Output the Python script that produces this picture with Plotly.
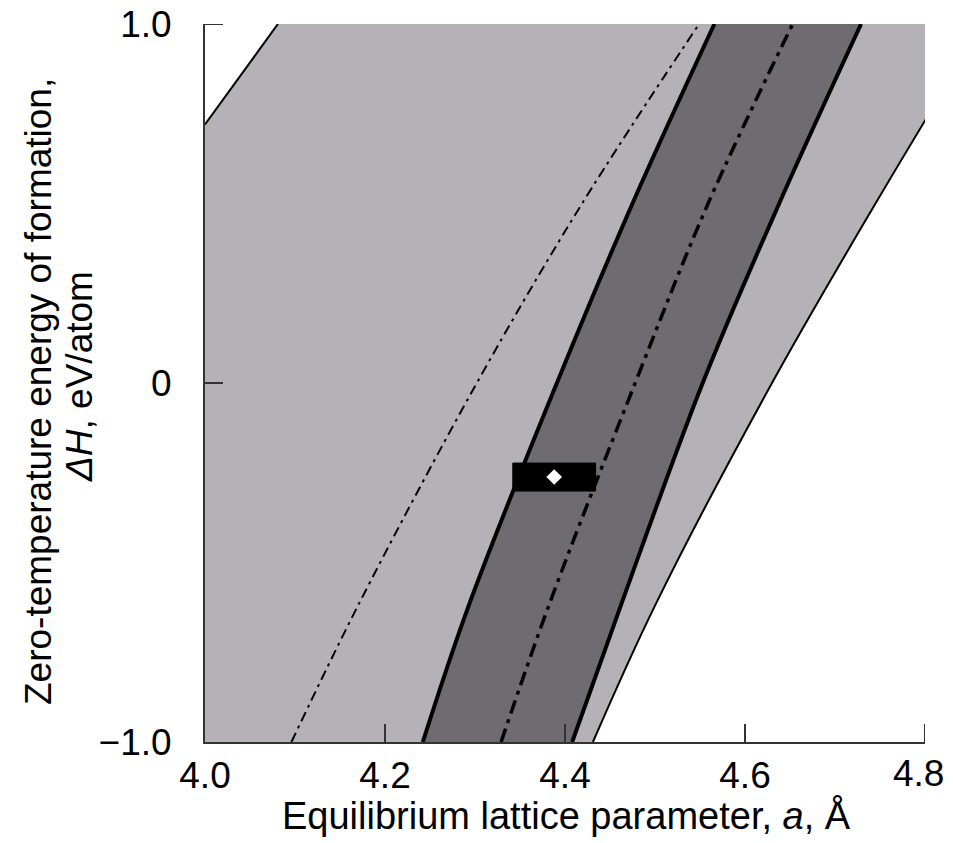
import plotly.graph_objects as go

# ---- data ----
X_RANGE = [4.0, 4.8]
Y_RANGE = [-1.0, 1.0]

# Energy levels at which the boundary curves were read
H_levels = [-1.0, -0.62, 0.0, 0.5, 1.0]

# Dark band (thick solid boundaries)
band_left_a = [4.242, 4.293, 4.391, 4.475, 4.566]
band_right_a = [4.408, 4.462, 4.553, 4.638, 4.729]
# Central dashed curve
center_a = [4.329, 4.382, 4.478, 4.559, 4.653]
# Thin dash-dot curve
thin_a = [4.096, 4.170, 4.302, 4.419, 4.549]
# Outer light region boundaries (thin solid)
outer_right_a = [4.431, 4.500, 4.630, 4.745, 4.865]
outer_left_a = [4.000, 4.081]
outer_left_H = [0.72, 1.00]

# Experimental point with uncertainty box
exp_a, exp_a_err = 4.388, 0.046
exp_H, exp_H_err = -0.262, 0.039

x_tickvals = [4.0, 4.2, 4.4, 4.6, 4.8]
x_ticktext = ["4.0", "4.2", "4.4", "4.6", "4.8"]
y_tickvals = [-1.0, 0.0, 1.0]
y_ticktext = ["\u22121.0", "0", "1.0"]

LIGHT = "#b4b2b6"
DARK = "#6e6c70"
AXIS = "#333"
TICKLEN = 18
FONT = "Liberation Sans, Arial, Helvetica, sans-serif"
TICKFONT = dict(family=FONT, size=37, color="black")

fig = go.Figure()

# light region fill
fig.add_trace(go.Scatter(x=[X_RANGE[0]] + outer_left_a, y=[Y_RANGE[0]] + outer_left_H,
                         mode="lines", line=dict(width=0), hoverinfo="skip"))
fig.add_trace(go.Scatter(x=outer_right_a, y=H_levels, mode="lines",
                         line=dict(width=0, shape="spline"), fill="tonextx",
                         fillcolor=LIGHT, hoverinfo="skip"))
# dark band fill
fig.add_trace(go.Scatter(x=band_left_a, y=H_levels, mode="lines",
                         line=dict(width=0, shape="spline"), hoverinfo="skip"))
fig.add_trace(go.Scatter(x=band_right_a, y=H_levels, mode="lines",
                         line=dict(width=0, shape="spline"), fill="tonextx",
                         fillcolor=DARK, hoverinfo="skip"))

# curves
fig.add_trace(go.Scatter(x=outer_left_a, y=outer_left_H, mode="lines",
                         line=dict(color="black", width=2)))
fig.add_trace(go.Scatter(x=outer_right_a, y=H_levels, mode="lines",
                         line=dict(color="black", width=2, shape="spline")))
fig.add_trace(go.Scatter(x=thin_a, y=H_levels, mode="lines",
                         line=dict(color="black", width=2, shape="spline",
                                   dash="10px,5px,3px,5px")))
fig.add_trace(go.Scatter(x=band_left_a, y=H_levels, mode="lines",
                         line=dict(color="black", width=4, shape="spline")))
fig.add_trace(go.Scatter(x=band_right_a, y=H_levels, mode="lines",
                         line=dict(color="black", width=4, shape="spline")))
fig.add_trace(go.Scatter(x=center_a, y=H_levels, mode="lines",
                         line=dict(color="black", width=3.5, shape="spline",
                                   dash="14px,6px,4px,6px")))

# experimental box and point
a0, a1 = exp_a - exp_a_err, exp_a + exp_a_err
h0, h1 = exp_H - exp_H_err, exp_H + exp_H_err
fig.add_trace(go.Scatter(x=[a0, a1, a1, a0, a0], y=[h0, h0, h1, h1, h0],
                         mode="lines", fill="toself", fillcolor="black",
                         line=dict(color="black", width=1)))
fig.add_trace(go.Scatter(x=[exp_a], y=[exp_H], mode="markers",
                         marker=dict(symbol="diamond", size=12, color="white",
                                     line=dict(width=0))))

axis_common = dict(showgrid=False, zeroline=False, showline=True, linecolor=AXIS,
                   linewidth=2, ticks="inside", ticklen=TICKLEN, tickwidth=2,
                   tickcolor=AXIS, mirror=False, ticklabeloverflow="allow",
                   tickfont=TICKFONT)

# last x label is drawn as an annotation nudged left so it is not clipped at the page edge
fig.update_xaxes(range=X_RANGE, tickvals=x_tickvals,
                 ticktext=x_ticktext[:-1] + [""],
                 ticklabelstandoff=0, **axis_common)
fig.update_yaxes(range=Y_RANGE, tickvals=y_tickvals, ticktext=y_ticktext,
                 ticklabelstandoff=24, **axis_common)
fig.add_annotation(text=x_ticktext[-1], xref="x", yref="paper", x=x_tickvals[-1], y=0,
                   xanchor="center", yanchor="middle", yshift=-31, xshift=-7,
                   showarrow=False, font=TICKFONT)

# end ticks (plotly drops ticks at the very ends of the axes)
fig.add_shape(type="line", xref="x", yref="y", xsizemode="pixel", xanchor=X_RANGE[0],
              x0=0, x1=TICKLEN, y0=Y_RANGE[1], y1=Y_RANGE[1],
              line=dict(color=AXIS, width=2), layer="above")
fig.add_shape(type="line", xref="x", yref="y", ysizemode="pixel", yanchor=Y_RANGE[0],
              y0=0, y1=TICKLEN, x0=X_RANGE[1], x1=X_RANGE[1],
              line=dict(color=AXIS, width=2), layer="above")

fig.add_annotation(text="Equilibrium lattice parameter, <i>a</i>, \u00c5",
                   xref="paper", yref="paper", x=(566 - 205) / 720, y=-(815 - 742) / 718,
                   xanchor="center", yanchor="middle", showarrow=False,
                   font=dict(family=FONT, size=38, color="black"))
fig.add_annotation(text="Zero-temperature energy of formation,",
                   xref="paper", yref="paper", x=-(205 - 38) / 720, y=(742 - 392) / 718,
                   xanchor="center", yanchor="middle", showarrow=False, textangle=-90,
                   font=dict(family=FONT, size=37, color="black"))
fig.add_annotation(text="<i>\u0394H</i>, eV/atom",
                   xref="paper", yref="paper", x=-(205 - 79) / 720, y=(742 - 377) / 718,
                   xanchor="center", yanchor="middle", showarrow=False, textangle=-90,
                   font=dict(family=FONT, size=37, color="black"))

# page body has an 8px default margin: size the figure so the plot sits where the reference does
fig.update_layout(width=945, height=835, showlegend=False,
                  margin=dict(l=197, r=28, t=16, b=101, autoexpand=False),
                  plot_bgcolor="white", paper_bgcolor="white")

fig.write_html("out.html")
